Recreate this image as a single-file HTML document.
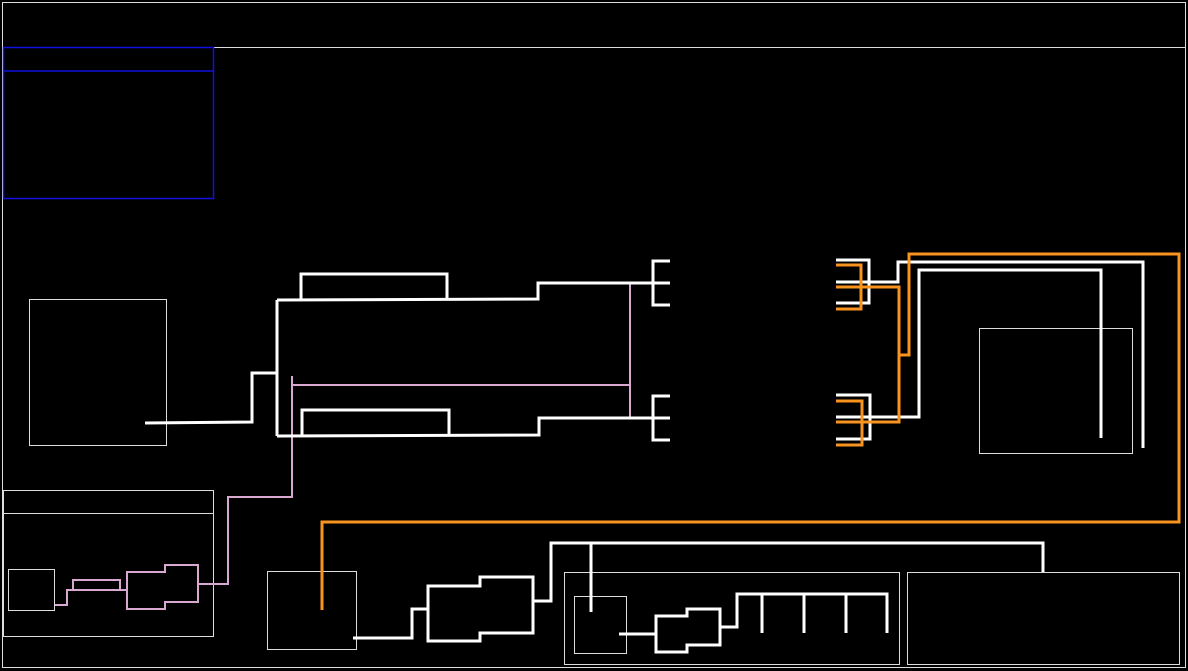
<!DOCTYPE html><html><head><style>html,body{margin:0;background:#000;}svg{display:block}</style></head><body>
<svg width="1188" height="671" viewBox="0 0 1188 671" xmlns="http://www.w3.org/2000/svg" fill="none">
<g stroke="#ddd" stroke-width="1">
<rect x="2.5" y="2.5" width="1183" height="665"/>
<line x1="2" y1="47.5" x2="1186" y2="47.5"/>
<rect x="29.5" y="299.5" width="137" height="146"/>
<rect x="3.5" y="490.5" width="210" height="146"/><line x1="3" y1="513.5" x2="213" y2="513.5"/>
<rect x="8.5" y="569.5" width="46" height="41"/>
<rect x="267.5" y="571.5" width="89" height="78"/>
<rect x="564.5" y="572.5" width="335" height="92"/>
<rect x="574.5" y="596.5" width="52" height="57"/>
<rect x="907.5" y="572.5" width="272" height="92"/>
<rect x="979.5" y="328.5" width="153" height="125"/>
</g>
<g stroke="#1010e0" stroke-width="1.5"><rect x="3.5" y="47.5" width="210" height="151"/><line x1="3" y1="71" x2="213" y2="71"/></g>
<g stroke="#d8a8d0" stroke-width="2">
<polyline points="630,283 630,418"/><polyline points="292,385 630,385"/>
<polyline points="292,376 292,497 228,497 228,584 198,584"/>
<polyline points="55,605 67,605 67,590 127,590"/>
<polyline points="73,590 73,580 120,580 120,590"/>
<polygon points="127,572 165,572 165,565 198,565 198,602 165,602 165,609 127,609"/>
</g>
<g stroke="#fff" stroke-width="3">
<polyline points="145,423 252,422 252,373 277,373"/>
<polyline points="277,300 277,436"/>
<polyline points="277,300 538,299 538,283 670,283"/>
<polyline points="301,299 301,274 447,274 447,299"/>
<polyline points="277,436 539,435 539,418 670,418"/>
<polyline points="302,435 302,410 449,410 449,435"/>
<polyline points="670,261 653,261 653,305 670,305"/>
<polyline points="670,396 653,396 653,440 670,440"/>
<polyline points="836,260 869,260 869,303 836,303"/>
<polyline points="836,282 898,282 898,262 1143,262 1143,448"/>
<polyline points="836,395 870,395 870,439 836,439"/>
<polyline points="836,417 919,417 919,270 1101,270 1101,438"/>
<polyline points="353,638 412,638 412,609 428,609"/>
<polygon points="428,586 480,586 480,577 533,577 533,633 480,633 480,641 428,641"/>
<polyline points="533,601 551,601 551,543 1043,543 1043,572"/>
<polyline points="591,543 591,612"/>
<polyline points="619,634 656,634"/>
<polygon points="656,616 687,616 687,609 720,609 720,645 687,645 687,652 656,652"/>
<polyline points="720,627 737,627 737,594 887,594 887,633"/>
<polyline points="762,594 762,633"/><polyline points="804,594 804,633"/><polyline points="846,594 846,633"/>
</g>
<g stroke="#f7931e" stroke-width="3">
<polyline points="322,610 322,522 1179,522 1179,254 909,254 909,355 899,355"/>
<polyline points="836,287 899,287 899,422 836,422"/>
<polyline points="836,265 861,265 861,309 836,309"/>
<polyline points="836,401 862,401 862,445 836,445"/>
</g>
</svg></body></html>
